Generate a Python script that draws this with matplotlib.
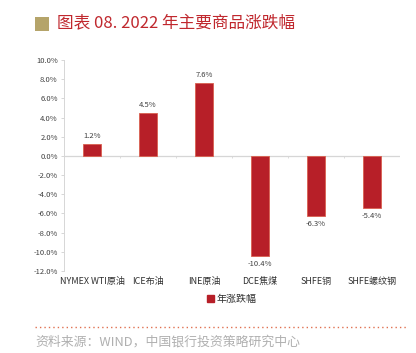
import matplotlib
matplotlib.use('Agg')
import matplotlib.pyplot as plt
import matplotlib.patches as mpatches
import numpy as np

plt.rcParams['font.family'] = ['Noto Sans CJK SC', 'DejaVu Sans']

categories = ['NYMEX WTI原油', 'ICE布油', 'INE原油', 'DCE焦煤', 'SHFE铜', 'SHFE螺纹钢']
values = [1.2, 4.5, 7.6, -10.4, -6.3, -5.4]
yticks = np.arange(-12, 10.1, 2)

BAR = '#b71f28'
EDGE = '#d9604f'

fig = plt.figure(figsize=(4.16, 3.53), dpi=100)
fig.patch.set_facecolor('white')

# ── title ────────────────────────────────────────────────────────────────────
fig.patches.append(mpatches.Rectangle((35/416, 1-31/353), 14/416, 14/353,
                                      transform=fig.transFigure,
                                      facecolor='#b5a46a', edgecolor='none'))
fig.text(57/416, 1-24/353, '图表 08. 2022 年主要商品涨跌幅',
         color='#c0282e', fontsize=12, fontweight='medium', va='center', ha='left')

# ── chart ────────────────────────────────────────────────────────────────────
ax = fig.add_axes([64/416, 1-271/353, 336/416, 211/353])
x = np.arange(len(categories))
ax.bar(x, values, width=0.31, color=BAR, edgecolor=EDGE, linewidth=0.6, zorder=3)

ax.set_xlim(-0.5, len(categories) - 0.5)
ax.set_ylim(-12, 10)
ax.set_yticks(yticks)
ax.set_yticklabels([f'{v:.1f}%' for v in yticks])
ax.tick_params(axis='y', labelsize=5.5, colors='#404040', length=2.5,
               color='#d0d0d0', width=0.6, pad=2)
ax.tick_params(axis='x', length=0, labelsize=6.5, colors='#303030', pad=4)
ax.set_xticks(x)
ax.set_xticklabels(categories)

for s in ['top', 'right', 'bottom']:
    ax.spines[s].set_visible(False)
ax.spines['left'].set_color('#d6d6d6')
ax.spines['left'].set_linewidth(0.7)

# zero line with category separators
ax.axhline(0, color='#d6d6d6', linewidth=0.9, zorder=2)
ax.vlines(np.arange(len(categories)) + 0.5, -0.25, 0, color='#d6d6d6',
          linewidth=0.6, zorder=2)

for xi, v in zip(x, values):
    if v >= 0:
        ax.annotate(f'{v:.1f}%', (xi, v), xytext=(0, 3), textcoords='offset points',
                    ha='center', va='bottom', fontsize=5.5, color='#404040')
    else:
        ax.annotate(f'{v:.1f}%', (xi, v), xytext=(0, -3), textcoords='offset points',
                    ha='center', va='top', fontsize=5.5, color='#404040')

# legend
ax.legend(handles=[mpatches.Patch(color=BAR, label='年涨跌幅')],
          loc='center', bbox_to_anchor=(0.5, -0.135), frameon=False,
          fontsize=7.2, handlelength=0.7, handleheight=0.7, handletextpad=0.3,
          labelcolor='#303030')

# ── footer ───────────────────────────────────────────────────────────────────
fig.add_artist(plt.Line2D([35/416, 406/416], [1-327/353, 1-327/353],
                          transform=fig.transFigure, color='#e07050',
                          linestyle=(0, (1, 2.2)), linewidth=1.0))
fig.text(35/416, 1-342/353, '资料来源：WIND，中国银行投资策略研究中心',
         color='#b0b0b0', fontsize=9.3, va='center', ha='left')

fig.savefig('out.png', dpi=100, facecolor=fig.get_facecolor())
